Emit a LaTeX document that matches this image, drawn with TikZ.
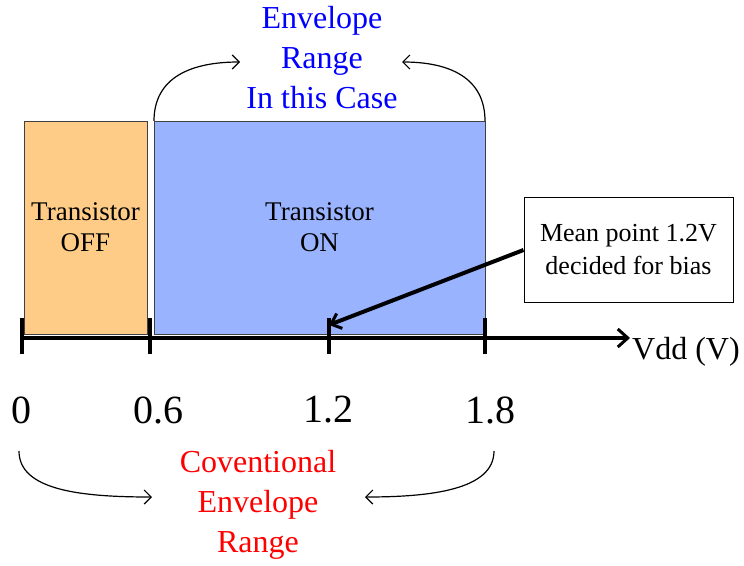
\documentclass[tikz,border=0pt]{standalone}
\usepackage{fontspec}
\setmainfont{Liberation Serif}
\usetikzlibrary{arrows.meta}
\definecolor{offfill}{HTML}{FFCC88}
\definecolor{onfill}{HTML}{99B3FF}
\definecolor{rectborder}{HTML}{404040}
\tikzset{
  region/.style={draw=rectborder, line width=1pt, inner sep=0pt, align=center,
                 font=\fontsize{27}{31}\selectfont},
  notebox/.style={draw=black, line width=1pt, inner sep=0pt, align=center,
                 fill=white, font=\fontsize{26}{33}\selectfont},
  ticklbl/.style={font=\fontsize{40}{40}\selectfont, inner sep=0pt},
  bigtxt/.style={align=center, inner sep=0pt, font=\fontsize{32}{40}\selectfont},
  thick axis/.style={line width=4pt},
  curvearrow/.style={line width=1.2pt, -{Straight Barb[length=7pt,width=14pt,line width=1.2pt]}},
}
\begin{document}
\begin{tikzpicture}[x=1pt,y=-1pt]
\useasboundingbox (0,0) rectangle (744,565);
% regions
\node[region, fill=offfill, minimum width=123pt, minimum height=213pt] (off) at (85.5,227.5) {Transistor\\OFF};
\node[region, fill=onfill, minimum width=331pt, minimum height=213pt] (on) at (319.5,227.5) {Transistor\\ON};
% axis
\coordinate (a0) at (22,338);
\coordinate (a06) at (150,338);
\coordinate (a12) at (329,338);
\coordinate (a18) at (485,338);
\coordinate (aend) at (630,338);
\draw[thick axis, -{Straight Barb[length=10pt,width=18pt,line width=3pt]}] (a0) -- (aend);
\foreach \c in {a0,a06,a12,a18}{
  \draw[thick axis] ([yshift=-16pt]\c) -- ([yshift=20pt]\c);
}
\node[font=\fontsize{32}{32}\selectfont, anchor=base west, inner sep=0pt] (vdd) at (632,359) {Vdd (V)};
% tick labels
\node[ticklbl] (l0) at (22,410) {0};
\node[ticklbl] (l06) at (158,410) {0.6};
\node[ticklbl] (l12) at (328,410) {1.2};
\node[ticklbl] (l18) at (490,410) {1.8};
% note box
\node[notebox, minimum width=209pt, minimum height=105pt] (note) at (628.5,250) {Mean point 1.2V\\decided for bias};
\coordinate (tip) at (329,325);
\draw[thick axis, -{Straight Barb[length=9pt,width=16pt,line width=3pt]}] (note.west) -- (tip);
% top text
\node[bigtxt, text=blue] (env) at (322,58) {Envelope\\Range\\In this Case};
\coordinate (tl0) at (154,121);
\coordinate (tl1) at (240,62);
\coordinate (tr0) at (485,121);
\coordinate (tr1) at (402,62);
\draw[curvearrow] (tl0) .. controls (154,78) and (190,62) .. (tl1);
\draw[curvearrow] (tr0) .. controls (485,78) and (450,62) .. (tr1);
% bottom text
\node[bigtxt, text=red] (conv) at (258,505) {Coventional\\Envelope\\Range};
\coordinate (bl0) at (19,451);
\coordinate (bl1) at (152,497);
\coordinate (br0) at (494,451);
\coordinate (br1) at (365,497);
\draw[curvearrow] (bl0) .. controls (19,490) and (80,497) .. (bl1);
\draw[curvearrow] (br0) .. controls (494,490) and (430,497) .. (br1);
\end{tikzpicture}
\end{document}
